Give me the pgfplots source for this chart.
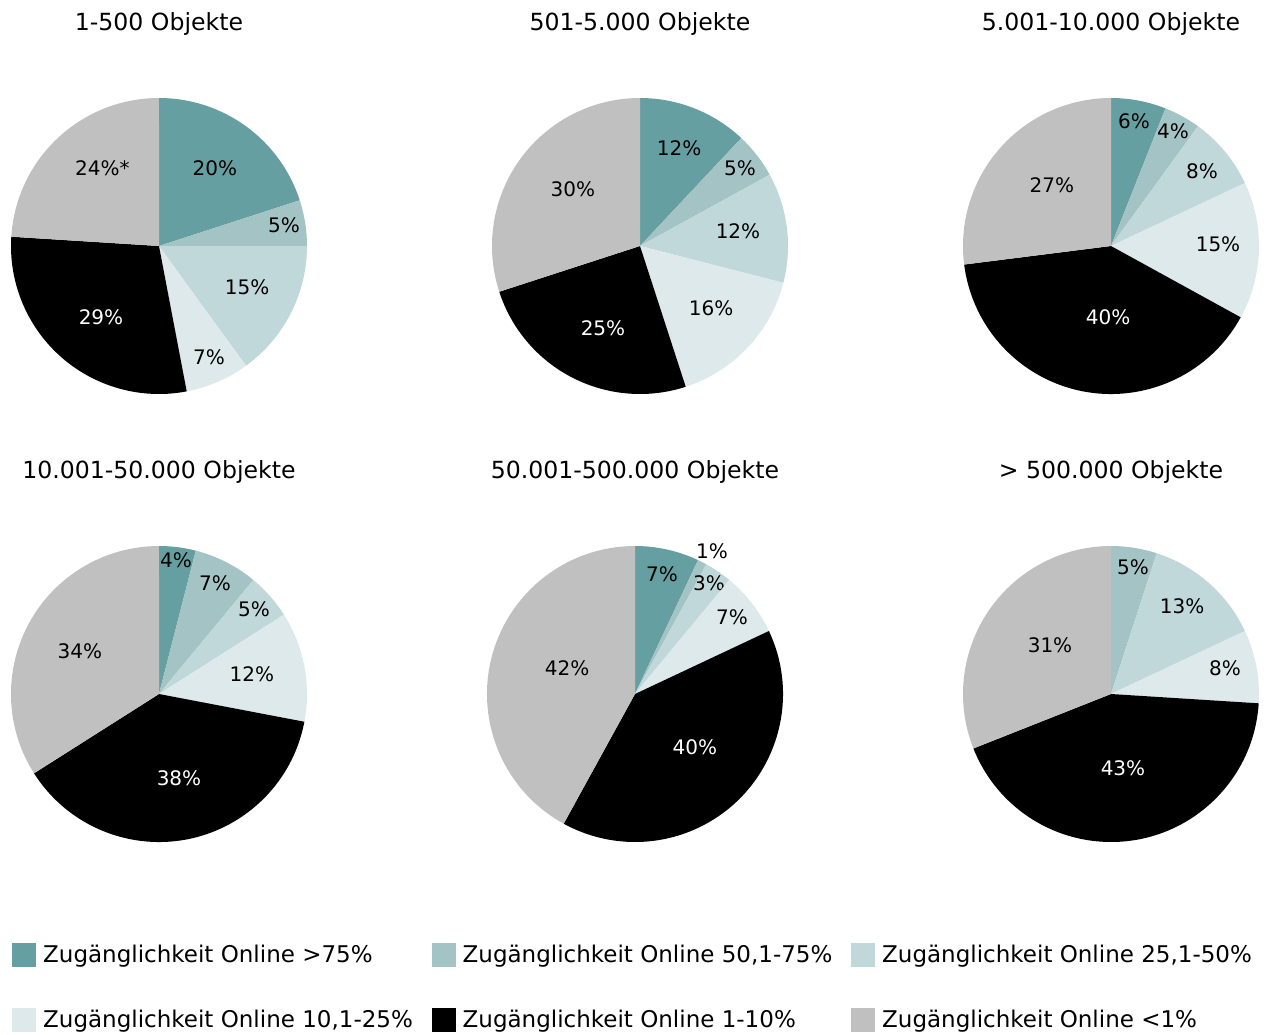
\documentclass[border=0pt]{standalone}
\usepackage{pgfplots}
\pgfplotsset{compat=1.18}
\usepackage{fontspec}
\setmainfont{DejaVu Sans}

\definecolor{c1}{HTML}{669FA1}
\definecolor{c2}{HTML}{A3C3C5}
\definecolor{c3}{HTML}{C1D8DA}
\definecolor{c4}{HTML}{DDE9EA}
\definecolor{c5}{HTML}{000000}
\definecolor{c6}{HTML}{C0C0C0}

\tikzset{
  lbl/.style={font=\fontsize{10}{12}\selectfont, inner sep=0pt, text=black},
  lbl1/.style={lbl}, lbl2/.style={lbl}, lbl3/.style={lbl},
  lbl4/.style={lbl}, lbl5/.style={lbl, text=white}, lbl6/.style={lbl},
}
\pgfplotsset{pie/.style={hide axis, x=74pt, y=74pt, xmin=-1, xmax=1,
  ymin=-1, ymax=1, clip=false, anchor=center}}

% #1 title, #2 list of value/label x/label y/label (label pos in radius units)
\newcommand{\piechart}[2]{%
  \node[font=\fontsize{11.8}{14}\selectfont] at (axis cs:0,1.5) {#1};
  \gdef\curang{90}%
  \foreach \v/\lx/\ly/\lab [count=\i] in {#2} {%
    \pgfmathsetmacro\aend{\curang-3.6*\v}%
    \pgfmathsetmacro\sx{cos(\curang)}%
    \pgfmathsetmacro\sy{sin(\curang)}%
    \edef\temp{\noexpand\fill[c\i] (axis cs:0,0) -- (axis cs:\sx,\sy)
      arc[start angle=\curang, end angle=\aend, radius=74pt] -- cycle;
      \noexpand\node[lbl\i] at (axis cs:\lx,\ly) {\lab};}%
    \temp
    \xdef\curang{\aend}%
  }%
}

\begin{document}
\begin{tikzpicture}
\path[use as bounding box] (0pt,0pt) rectangle (633pt,-517.5pt);
% frame and legend
\begin{axis}[at={(0pt,0pt)}, anchor=north west, scale only axis,
  width=633pt, height=517.5pt, hide axis, xmin=0, xmax=1, ymin=0, ymax=1,
  legend columns=3, legend cell align=left,
  legend image code/.code={\fill[#1] (0pt,-5.75pt) rectangle (11.5pt,5.75pt);},
  legend style={draw=none, fill=none, at={(0.00948,0.0889)}, anchor=north west,
    inner sep=0pt, font=\fontsize{11.5}{13}\selectfont, row sep=20.5pt,
    nodes={inner sep=0pt},
    /tikz/every odd column/.append style={column sep=3.5pt},
    /tikz/every even column/.append style={column sep=9.5pt}}]
\addlegendimage{c1}\addlegendentry{Zugänglichkeit Online >75\%}
\addlegendimage{c2}\addlegendentry{Zugänglichkeit Online 50,1-75\%}
\addlegendimage{c3}\addlegendentry{Zugänglichkeit Online 25,1-50\%}
\addlegendimage{c4}\addlegendentry{Zugänglichkeit Online 10,1-25\%}
\addlegendimage{c5}\addlegendentry{Zugänglichkeit Online 1-10\%}
\addlegendimage{c6}\addlegendentry{Zugänglichkeit Online <1\%}
\end{axis}

\begin{axis}[pie, at={(79.5pt,-123pt)}]
\piechart{1-500 Objekte}{20/0.378/0.527/20\%, 5/0.845/0.142/5\%,
  15/0.595/-0.277/15\%, 7/0.338/-0.750/7\%, 29/-0.392/-0.480/29\%,
  24/-0.382/0.527/24\%*}
\end{axis}

\begin{axis}[pie, at={(320pt,-123pt)}]
\piechart{501-5.000 Objekte}{12/0.264/0.662/12\%, 5/0.676/0.527/5\%,
  12/0.662/0.101/12\%, 16/0.480/-0.419/16\%, 25/-0.250/-0.554/25\%,
  30/-0.453/0.385/30\%}
\end{axis}

\begin{axis}[pie, at={(555.5pt,-123pt)}]
\piechart{5.001-10.000 Objekte}{6/0.155/0.845/6\%, 4/0.419/0.777/4\%,
  8/0.615/0.507/8\%, 15/0.723/0.014/15\%, 40/-0.020/-0.480/40\%,
  27/-0.399/0.412/27\%}
\end{axis}

\begin{axis}[pie, at={(79.5pt,-347pt)}]
\piechart{10.001-50.000 Objekte}{4/0.115/0.905/4\%, 7/0.378/0.750/7\%,
  5/0.642/0.574/5\%, 12/0.628/0.135/12\%, 38/0.135/-0.568/38\%,
  34/-0.534/0.291/34\%}
\end{axis}

\begin{axis}[pie, at={(317.5pt,-347pt)}]
\piechart{50.001-500.000 Objekte}{7/0.182/0.811/7\%, 1/0.520/0.966/1\%,
  3/0.500/0.750/3\%, 7/0.655/0.520/7\%, 40/0.405/-0.358/40\%,
  42/-0.459/0.176/42\%}
\end{axis}

\begin{axis}[pie, at={(555.5pt,-347pt)}]
\piechart{> 500.000 Objekte}{0/0/0/{}, 5/0.149/0.858/5\%,
  13/0.480/0.595/13\%, 8/0.770/0.176/8\%, 43/0.081/-0.500/43\%,
  31/-0.412/0.331/31\%}
\end{axis}
\end{tikzpicture}
\end{document}
